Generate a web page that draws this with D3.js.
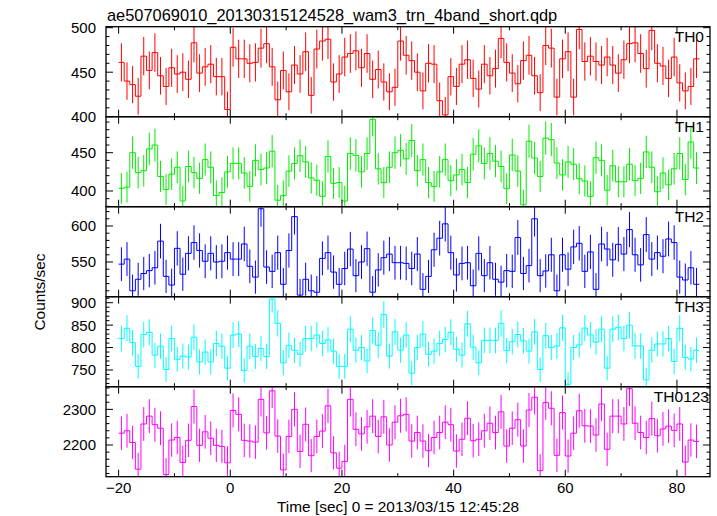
<!DOCTYPE html>
<html><head><meta charset="utf-8">
<script src="https://cdn.jsdelivr.net/npm/d3@7"></script>
<style>
html,body{margin:0;padding:0;background:#fff;}
text{font-family:"Liberation Sans",Arial,Helvetica,sans-serif;}
</style></head>
<body><div id="chart"></div>
<script>
// ---------------- data ----------------
const title = "ae507069010_20130315124528_wam3_trn_4band_short.qdp";
const xLabel = "Time [sec] 0 = 2013/03/15 12:45:28";
const yLabel = "Counts/sec";
const seriesNames = ["TH0", "TH1", "TH2", "TH3", "TH0123"];
const seriesColors = ["#ff0000", "#00ee00", "#0000ff", "#00ffff", "#ff00ff"];
const binStart = -20;   // first bin edge (s)
const binWidth = 1;     // s
const xTickValues = [-20, 0, 20, 40, 60, 80];

const th0 = [461,440,436,423,468,452,472,446,434,455,
  448,450,442,483,449,456,459,445,445,408,
  478,465,465,460,461,477,482,456,419,452,
  428,458,448,473,424,476,485,487,439,448,
  467,471,474,455,471,442,453,439,428,433,
  485,469,463,450,429,460,459,418,402,445,
  434,459,464,443,431,459,446,454,488,461,
  449,437,463,469,446,427,480,477,422,465,
  473,422,498,462,468,462,458,467,458,449,
  464,482,483,471,454,497,460,457,443,467,
  438,429,434,465];
const th1 = [403.5,405,450,424,426.5,455,460,419,402,422,
  431,387,432,424,416.5,441,431,394,398,425,
  436,436,423.5,406,440,428,430,452,388,394,
  426,436,446,438,417,414,393,445,410,411,
  387,449,446.5,425,449,493.5,429,411,431,450,
  453,442,466,426.5,441,411,406,425,441,413.5,
  421,428,411,448,459,436,449,439,432,403,
  447,426,382,465,443,419,469,467,436.5,421,
  438,435,416,413,393,443.5,440,401,433,412,
  412,435,413.5,416.5,451,431,399,423.5,408,429,
  449,415,464,430];
const th2 = [547,554,510,526,534,538,542,579,530,518,
  569,533,562,577,566,551,562,550,551,563,
  554,554,575,544,529,624,543,537,563,519,
  566,613,504,526,510,508,555,563,536,519,
  541,568,531,550,568.5,508,539,556,561,549,
  549,548,541,561,512,530,567,583,603,563,
  532,548,549,517,562,531,549,526,522,538,
  537,584,534,545,610,531,537.5,560,510,560,
  540,571,576,537,564,512,575,568,553,574.5,
  561,595,560,546,588,554,563,558,582,577,
  529,525,542,519];
const th3 = [820,843,811,758,829,834,783,803,751,820,
  774,781,779,823,768,790,768,809,803,754,
  828,830,749,803,780,798,780,908,854,766,
  805,794,785,820,820,828,809,817,792,758,
  758,841,794,800,770,838,805,874,781,835,
  794,828,743,800,830,785,792,809,818,834,
  796,783,853,801,766,816,816,816,854,793,
  813,829,815,792,835,751,826.5,800,803.5,844,
  718,800,806,843.5,828,812,841,754,841,845,
  820,850,803.5,803.5,728,794,808,808,820,769,
  843,778,774.5,794];
const th0123 = [2233,2240,2207,2132,2259,2281,2257,2247,2117,2214,
  2221,2151,2213,2308,2199,2237,2219,2199,2196,2150,
  2297,2286,2213,2211,2208,2328,2234,2352,2225,2130,
  2224,2300,2182,2258,2170,2224,2239,2310,2178,2135,
  2154,2328,2244,2231,2251,2281,2224,2279,2200,2264,
  2282,2286,2211,2235,2211,2184,2221,2235,2264,2257,
  2183,2216,2275,2212,2216,2240,2261,2235,2293,2197,
  2247,2271,2197,2298,2334,2128,2319,2303,2171,2291,
  2169,2233,2296,2254,2253,2228,2315,2188,2281,2281,
  2259,2358,2261,2235,2221,2274,2226,2245,2253,2241,
  2259,2152,2214,2210];
const seriesValues = [th0, th1, th2, th3, th0123];
const yDomains = [[400, 501.1], [379.5, 497], [501.8, 626.8], [712.7, 913.4], [2111, 2363.6]];
const yMajorTicks = [[400,450,500], [400,450], [550,600], [750,800,850,900], [2200,2300]];
const yMinorSteps = [10, 10, 10, 10, 20];

// ---------------- layout ----------------
const W = 717, H = 516;
const left = 106, right = 710, top0 = 26.7, panelH = 90;
const svg = d3.select("#chart").append("svg").attr("width", W).attr("height", H);

const x = d3.scaleLinear().domain([-22.26, 85.92]).range([left, right]);
const labelX = [704, 704, 704, 704, 709];

svg.append("text").attr("x", 107).attr("y", 20.5).attr("font-size", 16.4).attr("fill", "#000").text(title);

const defs = svg.append("defs");

seriesValues.forEach((vals, k) => {
  const top = top0 + k * panelH, bot = top + panelH;
  const y = d3.scaleLinear().domain(yDomains[k]).range([bot, top]);
  const g = svg.append("g");
  const clipId = "clip" + k;
  defs.append("clipPath").attr("id", clipId).append("rect")
    .attr("x", left).attr("y", top).attr("width", right - left).attr("height", panelH);
  const dg = g.append("g").attr("clip-path", `url(#${clipId})`);
  const col = seriesColors[k];

  // error bars (Poisson, 1-s bins)
  dg.selectAll("line.err").data(vals).enter().append("line")
    .attr("x1", (v, i) => x(binStart + (i + 0.5) * binWidth))
    .attr("x2", (v, i) => x(binStart + (i + 0.5) * binWidth))
    .attr("y1", v => y(v - Math.sqrt(v * binWidth) / binWidth))
    .attr("y2", v => y(v + Math.sqrt(v * binWidth) / binWidth))
    .attr("stroke", col).attr("stroke-width", 1);

  // step histogram
  const pts = [];
  vals.forEach((v, i) => {
    pts.push([binStart + i * binWidth, v]);
    pts.push([binStart + (i + 1) * binWidth, v]);
  });
  dg.append("path").attr("d", d3.line().x(d => x(d[0])).y(d => y(d[1]))(pts))
    .attr("fill", "none").attr("stroke", col).attr("stroke-width", 1);

  // frame
  g.append("rect").attr("x", left).attr("y", top).attr("width", right - left).attr("height", panelH)
    .attr("fill", "none").attr("stroke", "#000").attr("stroke-width", 1.3);

  // y ticks (left and right, inward)
  const [y0, y1] = yDomains[k];
  const minor = d3.range(Math.ceil(y0 / yMinorSteps[k]) * yMinorSteps[k], y1 + 1e-9, yMinorSteps[k]);
  const maj = yMajorTicks[k];
  const tg = g.append("g").attr("stroke", "#000").attr("stroke-width", 1);
  minor.forEach(t => {
    const len = maj.includes(t) ? 7 : 3.5;
    tg.append("line").attr("x1", left).attr("x2", left + len).attr("y1", y(t)).attr("y2", y(t));
    tg.append("line").attr("x1", right).attr("x2", right - len).attr("y1", y(t)).attr("y2", y(t));
  });
  maj.forEach(t => {
    g.append("text").attr("x", 96).attr("y", y(t)).attr("dy", "0.36em")
      .attr("text-anchor", "end").attr("font-size", 15).text(t);
  });

  // x ticks (top and bottom, inward)
  d3.range(-20, 86, 10).forEach(t => {
    const len = (t % 20 === 0) ? 7 : 3.5;
    tg.append("line").attr("x1", x(t)).attr("x2", x(t)).attr("y1", bot).attr("y2", bot - len);
    tg.append("line").attr("x1", x(t)).attr("x2", x(t)).attr("y1", top).attr("y2", top + len);
  });

  g.append("text").attr("x", labelX[k]).attr("y", top + 15.5).attr("text-anchor", "end")
    .attr("font-size", 15.5).text(seriesNames[k]);

  if (k === seriesValues.length - 1) {
    xTickValues.forEach(t => {
      g.append("text").attr("x", x(t)).attr("y", 492.7).attr("text-anchor", "middle")
        .attr("font-size", 15).text(t < 0 ? "\u2212" + Math.abs(t) : t);
    });
  }
});

svg.append("text").attr("x", 398).attr("y", 511.5).attr("text-anchor", "middle")
  .attr("font-size", 15.4).text(xLabel);
svg.append("text").attr("transform", "translate(45,292) rotate(-90)").attr("text-anchor", "middle")
  .attr("font-size", 15.4).text(yLabel);
</script></body></html>
